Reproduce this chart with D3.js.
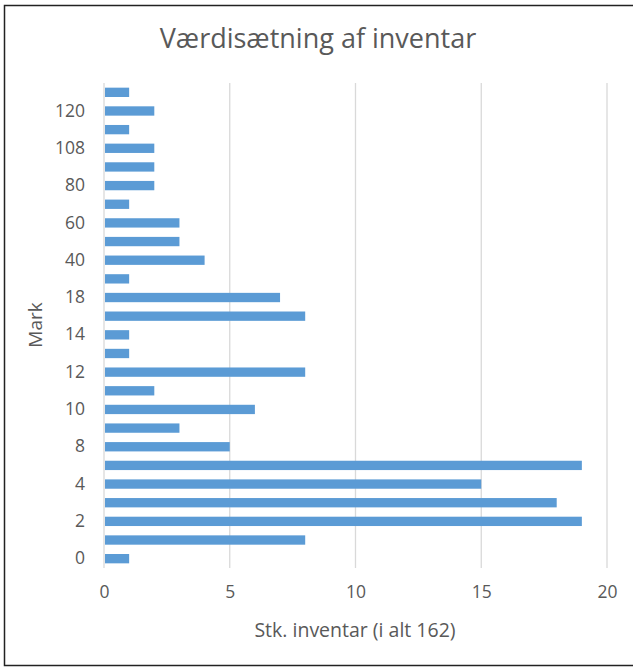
<!DOCTYPE html>
<html lang="da">
<head>
    <meta charset="UTF-8">
    <title>Værdisætning af inventar</title>
    <script src="https://d3js.org/d3.v7.min.js"></script>
    <style>
        body {
            margin: 0;
            padding: 0;
            background: #fff;
            font-family: "Open Sans", "Noto Sans", sans-serif;
        }
        text {
            fill: #595959;
        }
    </style>
</head>
<body>
    <svg id="chart" width="633" height="667"></svg>

    <script>
        // data (bottom to top)
        const marks = ["0", "1", "2", "3", "4", "5", "8", "9", "10", "11", "12", "13", "14",
                       "15", "18", "20", "40", "50", "60", "70", "80", "100", "108", "110", "120", "150"];
        const counts = [1, 8, 19, 18, 15, 19, 5, 3, 6, 2, 8, 1, 1,
                        8, 7, 1, 4, 3, 3, 1, 2, 2, 2, 1, 2, 1];
        const xTicks = [0, 5, 10, 15, 20];

        const title = "Værdisætning af inventar";
        const xTitle = "Stk. inventar (i alt 162)";
        const yTitle = "Mark";

        const svg = d3.select("#chart");

        // outer chart border
        svg.append("rect")
            .attr("x", 4.5)
            .attr("y", 5.5)
            .attr("width", 640)
            .attr("height", 660)
            .attr("fill", "none")
            .attr("stroke", "#222")
            .attr("stroke-width", 1.5);

        const plotLeft = 104, plotRight = 607, plotTop = 83, plotBottom = 568;

        const x = d3.scaleLinear()
            .domain([0, 20])
            .range([plotLeft, plotRight]);

        const y = d3.scaleBand()
            .domain(marks.slice().reverse())
            .range([plotTop, plotBottom])
            .paddingInner(0.5)
            .paddingOuter(0.25);

        // vertical gridlines
        svg.append("g")
            .selectAll("line")
            .data(xTicks)
            .enter().append("line")
            .attr("x1", d => x(d))
            .attr("x2", d => x(d))
            .attr("y1", plotTop)
            .attr("y2", plotBottom)
            .attr("stroke", "#d9d9d9")
            .attr("stroke-width", 1.3);

        // bars
        svg.append("g")
            .selectAll("rect")
            .data(marks)
            .enter().append("rect")
            .attr("x", x(0) + 1)
            .attr("y", d => y(d))
            .attr("width", (d, i) => x(counts[i]) - x(0) - 1)
            .attr("height", y.bandwidth())
            .attr("fill", "#5b9bd5");

        // x axis labels
        const xAxis = svg.append("g")
            .attr("transform", `translate(0,${plotBottom})`)
            .call(d3.axisBottom(x).tickValues(xTicks).tickSize(0).tickPadding(18));
        xAxis.select(".domain").remove();
        xAxis.selectAll("text")
            .attr("fill", "#595959")
            .style("font-size", "17.5px")
            .style("font-family", "'Open Sans', sans-serif");

        // y axis labels, every other category shown
        const yAxis = svg.append("g")
            .attr("transform", `translate(${plotLeft},0)`)
            .call(d3.axisLeft(y)
                .tickValues(marks.filter((d, i) => i % 2 === 0))
                .tickSize(0)
                .tickPadding(19));
        yAxis.select(".domain").remove();
        yAxis.selectAll("text")
            .attr("fill", "#595959")
            .style("font-size", "17.5px")
            .style("font-family", "'Open Sans', sans-serif");

        // titles
        svg.append("text")
            .attr("x", 318)
            .attr("y", 48)
            .attr("text-anchor", "middle")
            .style("font-size", "27px")
            .text(title);

        svg.append("text")
            .attr("x", 355)
            .attr("y", 637)
            .attr("text-anchor", "middle")
            .style("font-size", "19.5px")
            .text(xTitle);

        svg.append("text")
            .attr("transform", "translate(42,325) rotate(-90)")
            .attr("text-anchor", "middle")
            .style("font-size", "19px")
            .text(yTitle);
    </script>
</body>
</html>
